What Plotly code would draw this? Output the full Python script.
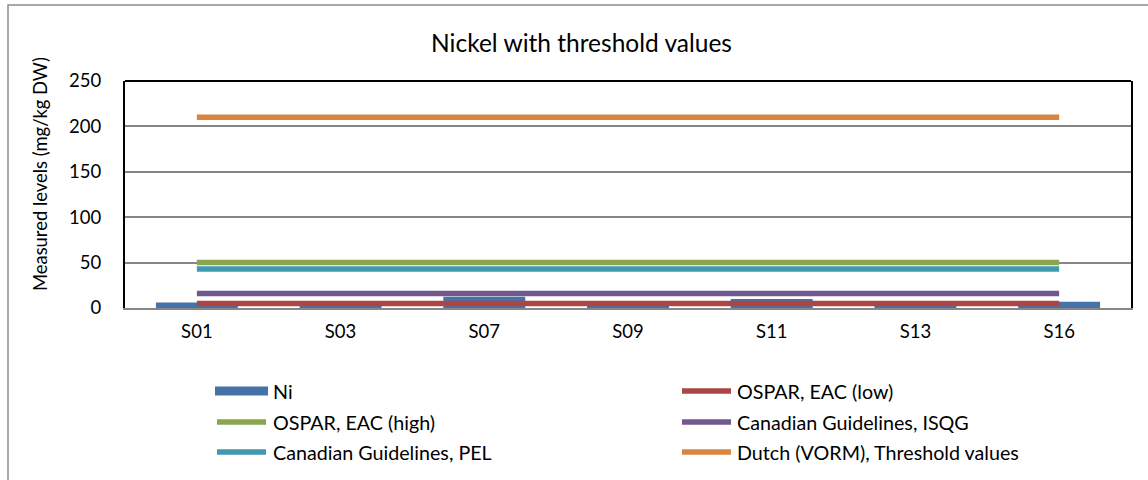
import plotly.graph_objects as go

# Sampling stations and measured nickel (mg/kg DW)
stations = ["S01", "S03", "S07", "S09", "S11", "S13", "S16"]
nickel = [6, 4.5, 12.5, 4.5, 9.8, 4.5, 7]

# Sediment quality threshold values (mg/kg DW)
threshold_names = [
    "OSPAR, EAC (low)",
    "OSPAR, EAC (high)",
    "Canadian Guidelines, ISQG",
    "Canadian Guidelines, PEL",
    "Dutch (VORM), Threshold values",
]
threshold_values = [5, 50, 16, 43, 210]
threshold_colors = ["#AA4643", "#89A54E", "#71588F", "#4198AF", "#DB843D"]
bar_color = "#4572A7"

y_ticks = [0, 50, 100, 150, 200, 250]

FONT = "Lato"

# plot-area geometry in pixels
W, H = 1148, 480
L, R, T, B = 125, 17, 81, 172
PW, PH = W - L - R, H - T - B


def px_x(p):
    return (p - L) / PW


def px_y(p):
    return (H - B - p) / PH


fig = go.Figure()

fig.add_trace(go.Bar(
    x=stations, y=nickel, name="Ni",
    marker=dict(color=bar_color, line=dict(width=0)),
    showlegend=False,
))

for name, val, col in zip(threshold_names, threshold_values, threshold_colors):
    fig.add_trace(go.Scatter(
        x=stations, y=[val] * len(stations), name=name, mode="lines",
        line=dict(color=col, width=5.5), showlegend=False,
    ))

# Two-column legend drawn below the plot
legend_entries = [("Ni", bar_color, "bar")] + [
    (n, c, "line") for n, c in zip(threshold_names, threshold_colors)
]
col_sym_x = [215, 680]
col_txt_x = [271, 735]
row_y = [391, 422, 452]
shapes = []
annotations = []
for i, (name, col, kind) in enumerate(legend_entries):
    c, r = i % 2, i // 2
    x0, x1 = col_sym_x[c], col_sym_x[c] + 53
    yc = row_y[r]
    if kind == "bar":
        shapes.append(dict(type="rect", xref="paper", yref="paper",
                           x0=px_x(x0), x1=px_x(x1),
                           y0=px_y(yc + 4.5), y1=px_y(yc - 4.5),
                           fillcolor=col, line=dict(width=0)))
    else:
        shapes.append(dict(type="line", xref="paper", yref="paper",
                           x0=px_x(x0 + 2), x1=px_x(x1 - 2),
                           y0=px_y(yc), y1=px_y(yc),
                           line=dict(color=col, width=5.5)))
    annotations.append(dict(text=name, xref="paper", yref="paper",
                            x=px_x(col_txt_x[c]), y=px_y(yc),
                            xanchor="left", yanchor="middle", showarrow=False,
                            font=dict(family=FONT, size=19.7, color="#000000")))

# Plot area top border and outer chart frame
shapes.append(dict(type="line", xref="paper", yref="paper",
                   x0=0, x1=1, y0=1, y1=1, line=dict(color="#000000", width=2)))
shapes.append(dict(type="rect", xref="paper", yref="paper",
                   x0=px_x(8), x1=px_x(1160), y0=px_y(5), y1=px_y(495),
                   line=dict(color="#8C8C8C", width=1.5), layer="below"))

# Vertical axis title
annotations.append(dict(text="Measured levels (mg/kg DW)", xref="paper", yref="paper",
                        x=px_x(40), y=px_y(174), textangle=-90, showarrow=False,
                        xanchor="center", yanchor="middle",
                        font=dict(family=FONT, size=18.4, color="#000000")))

fig.update_layout(
    width=W, height=H,
    margin=dict(l=L, r=R, t=T, b=B, pad=0),
    paper_bgcolor="#FFFFFF", plot_bgcolor="#FFFFFF",
    title=dict(text="Nickel with threshold values", x=581.5 / W,
               xanchor="center", y=1 - 43 / H, yanchor="middle",
               font=dict(family=FONT, size=24.5, color="#000000")),
    bargap=0.43,
    showlegend=False,
    shapes=shapes,
    annotations=annotations,
    font=dict(family=FONT, color="#000000"),
)

fig.update_xaxes(
    showgrid=False, showline=True, linecolor="#868686", linewidth=2,
    ticks="", tickfont=dict(family=FONT, size=18.5), ticklabelstandoff=6,
    zeroline=False,
)
fig.update_yaxes(
    range=[0, 250], tickvals=y_ticks, showgrid=True, gridcolor="#868686",
    gridwidth=1.5, showline=True, linecolor="#000000", linewidth=2, mirror=True,
    ticks="", tickfont=dict(family=FONT, size=18.5), ticklabelstandoff=18,
    zeroline=False,
)

fig.write_html("out.html")
